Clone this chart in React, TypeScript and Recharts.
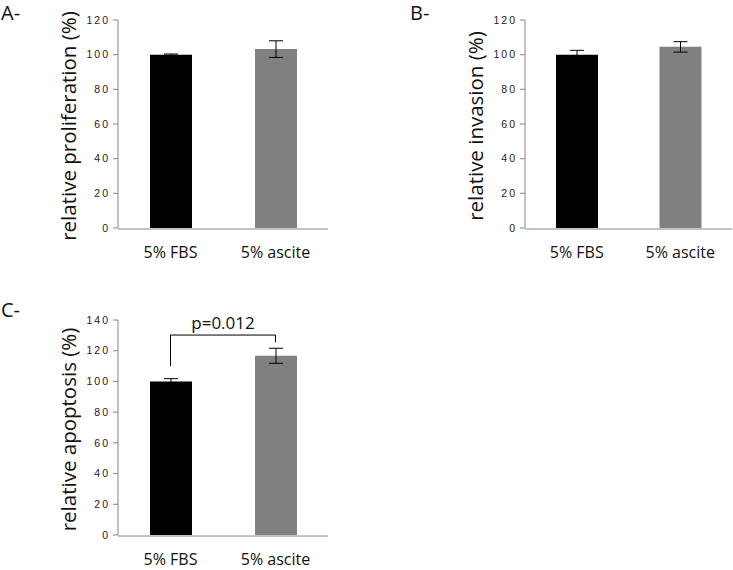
import {
  Bar,
  BarChart,
  Cell,
  ErrorBar,
  Label,
  ReferenceLine,
  XAxis,
  YAxis,
} from 'recharts'

const categories = ['5% FBS', '5% ascite']
const barColors = ['#000000', '#808080']

const proliferation = [100, 103.2]
const proliferationErr = [0.4, 4.8]
const invasion = [100, 104.5]
const invasionErr = [2.5, 3]
const apoptosis = [100, 116.7]
const apoptosisErr = [1.8, 4.9]

const ticks120 = [0, 20, 40, 60, 80, 100, 120]
const ticks140 = [0, 20, 40, 60, 80, 100, 120, 140]

// significance bracket for panel C: left foot, bar height, right foot
const bracket = { left: 110, top: 130.2, right: 125.5, text: 'p=0.012' }

const AXIS = '#868686'
const SANS = '"Open Sans", "Noto Sans", sans-serif'
const Y_AXIS_W = 70

type Pt = { name: string; value: number; err: number }

const toRows = (values: number[], errs: number[]): Pt[] =>
  categories.map((name, i) => ({ name, value: values[i], err: errs[i] }))

function YTitle({ viewBox, text }: { viewBox?: any; text: string }) {
  if (!viewBox) return null
  const x = viewBox.x + viewBox.width - 50
  const y = viewBox.y + viewBox.height / 2 + 2
  return (
    <text
      x={x}
      y={y}
      transform={`rotate(-90 ${x} ${y})`}
      textAnchor="middle"
      dominantBaseline="central"
      fontFamily={SANS}
      fontSize={20.5}
      fill="#111"
    >
      {text}
    </text>
  )
}

function Panel({
  rows,
  title,
  max,
  ticks,
  width,
  height,
  margin,
  children,
}: {
  rows: Pt[]
  title: string
  max: number
  ticks: number[]
  width: number
  height: number
  margin: { top: number; right: number; bottom: number; left: number }
  children?: React.ReactNode
}) {
  return (
    <BarChart width={width} height={height} data={rows} margin={margin}>
      {/* Excel-style category separator ticks on the x axis */}
      <XAxis
        xAxisId="sep"
        type="number"
        domain={[0, 2]}
        ticks={[0, 1, 2]}
        height={1}
        tick={false}
        tickSize={6}
        axisLine={{ stroke: AXIS }}
        tickLine={{ stroke: AXIS }}
      />
      <XAxis
        dataKey="name"
        height={1}
        axisLine={false}
        tickLine={false}
        tickSize={0}
        tickMargin={19}
        tick={{ fill: '#111', fontSize: 16, fontFamily: SANS }}
      />
      <YAxis
        width={Y_AXIS_W}
        domain={[0, max]}
        ticks={ticks}
        interval={0}
        axisLine={{ stroke: AXIS }}
        tickLine={{ stroke: AXIS }}
        tickSize={5}
        tickMargin={3}
        tick={{
          fill: '#222',
          fontSize: 10.5,
          fontFamily: '"Liberation Sans", Arial, sans-serif',
          letterSpacing: 2,
        }}
        label={<YTitle text={title} />}
      />
      <Bar dataKey="value" barSize={42} isAnimationActive={false}>
        {rows.map((r, i) => (
          <Cell key={r.name} fill={barColors[i]} />
        ))}
        <ErrorBar dataKey="err" width={7} stroke="#000" strokeWidth={1} direction="y" />
      </Bar>
      {children}
    </BarChart>
  )
}

function PanelLetter({ x, y, text }: { x: number; y: number; text: string }) {
  return (
    <div
      style={{
        position: 'absolute',
        left: x,
        top: y,
        fontFamily: SANS,
        fontSize: 20,
        lineHeight: '20px',
        color: '#111',
      }}
    >
      {text}
    </div>
  )
}

export default function App() {
  const rowsA = toRows(proliferation, proliferationErr)
  const rowsB = toRows(invasion, invasionErr)
  const rowsC = toRows(apoptosis, apoptosisErr)
  return (
    <div
      style={{
        position: 'absolute',
        left: 0,
        top: 0,
        width: 733,
        height: 570,
        background: '#fff',
        overflow: 'hidden',
      }}
    >
      <PanelLetter x={1} y={3} text="A-" />
      <PanelLetter x={410} y={3} text="B-" />
      <PanelLetter x={1} y={300} text="C-" />

      <div style={{ position: 'absolute', left: 0, top: 0 }}>
        <Panel
          rows={rowsA}
          title="relative proliferation (%)"
          max={120}
          ticks={ticks120}
          width={340}
          height={270}
          margin={{ top: 20, right: 12, bottom: 40, left: 118 - Y_AXIS_W }}
        />
      </div>

      <div style={{ position: 'absolute', left: 370, top: 0 }}>
        <Panel
          rows={rowsB}
          title="relative invasion (%)"
          max={120}
          ticks={ticks120}
          width={363}
          height={270}
          margin={{ top: 20, right: 1, bottom: 40, left: 155 - Y_AXIS_W }}
        />
      </div>

      <div style={{ position: 'absolute', left: 0, top: 280 }}>
        <Panel
          rows={rowsC}
          title="relative apoptosis (%)"
          max={140}
          ticks={ticks140}
          width={340}
          height={290}
          margin={{ top: 40, right: 12, bottom: 33, left: 118 - Y_AXIS_W }}
        >
          <ReferenceLine
            segment={[
              { x: categories[0], y: bracket.left },
              { x: categories[0], y: bracket.top },
            ]}
            stroke="#000"
            strokeWidth={1}
          />
          <ReferenceLine
            segment={[
              { x: categories[0], y: bracket.top },
              { x: categories[1], y: bracket.top },
            ]}
            stroke="#000"
            strokeWidth={1}
          >
            <Label
              value={bracket.text}
              position="top"
              offset={6}
              fill="#111"
              fontSize={17}
              fontFamily={SANS}
            />
          </ReferenceLine>
          <ReferenceLine
            segment={[
              { x: categories[1], y: bracket.top },
              { x: categories[1], y: bracket.right },
            ]}
            stroke="#000"
            strokeWidth={1}
          />
        </Panel>
      </div>
    </div>
  )
}
